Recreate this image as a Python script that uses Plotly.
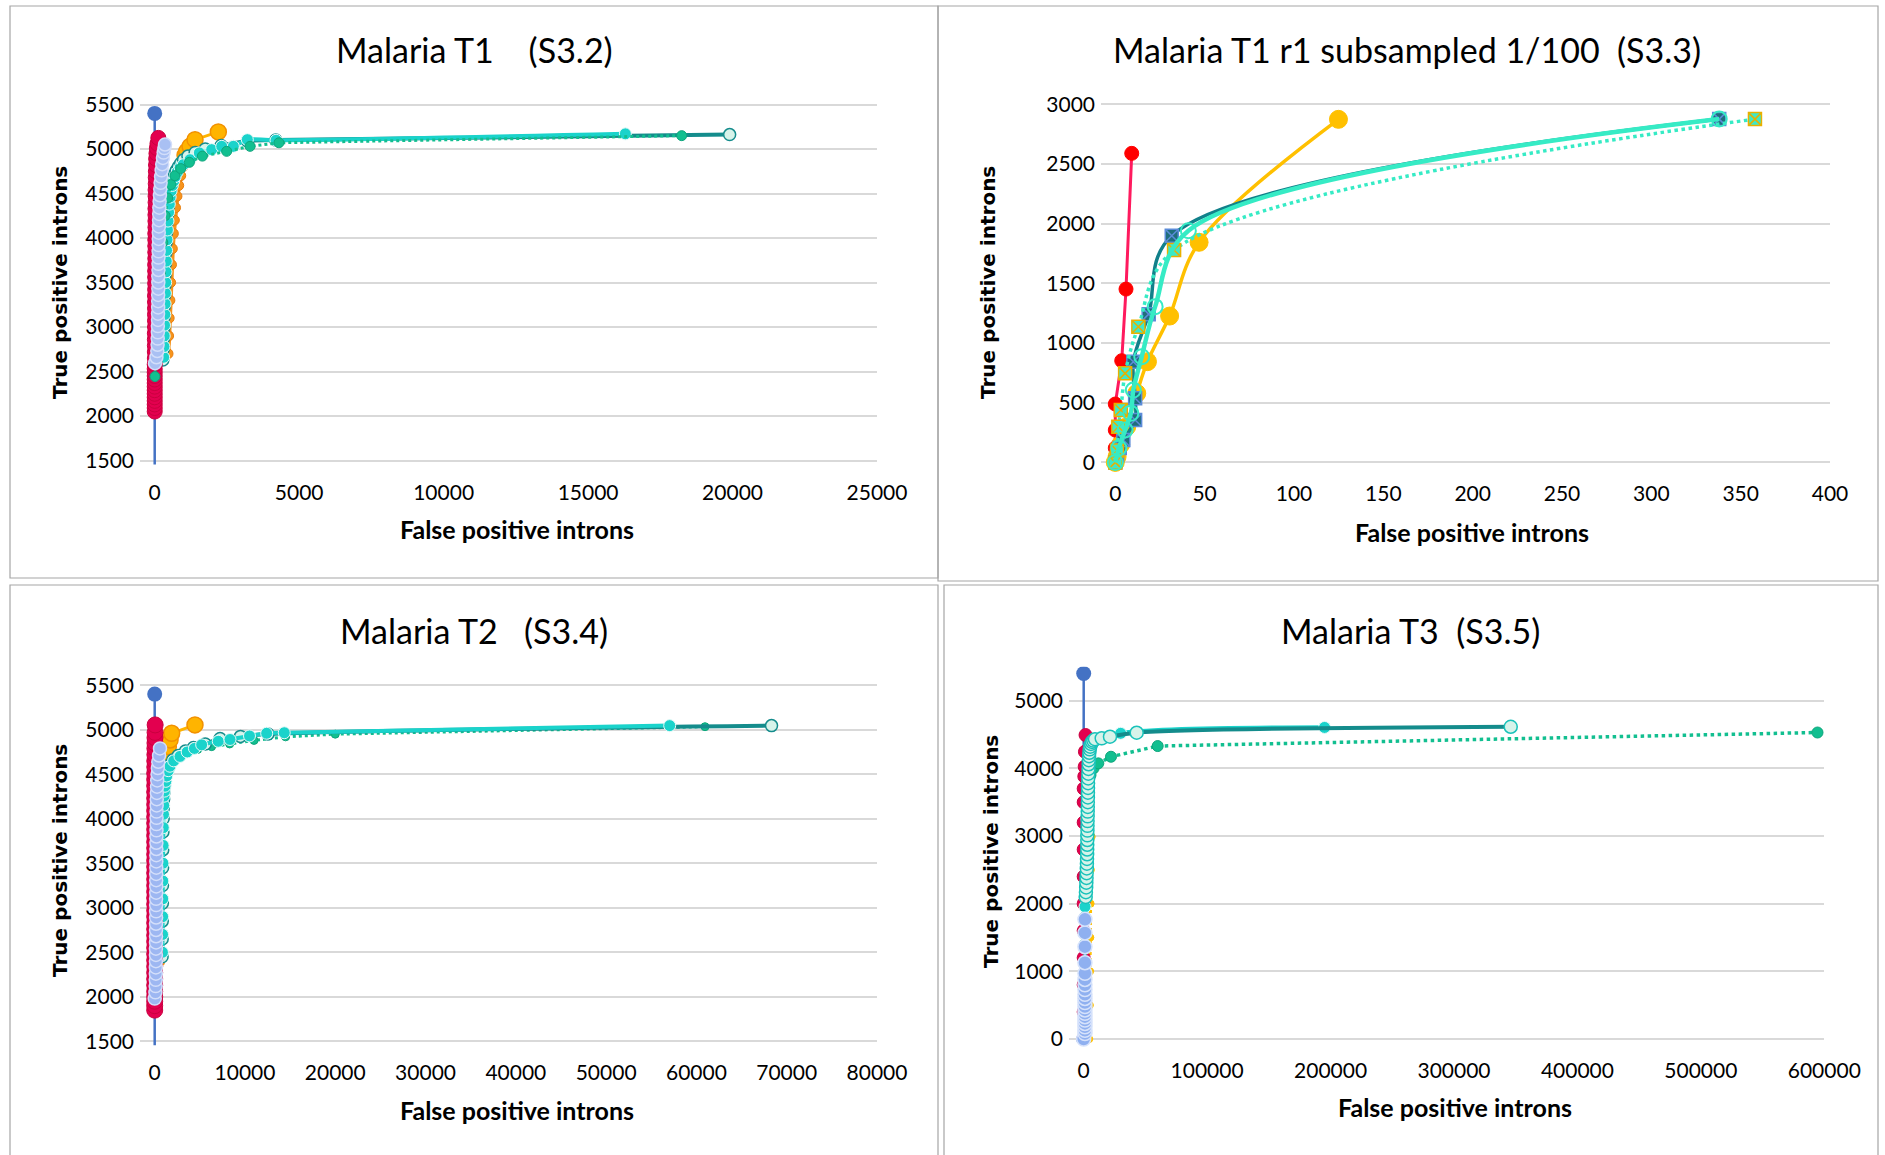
import plotly.graph_objects as go

W, H = 1885, 1155

# ---------------- Panel 1: Malaria T1 (S3.2) ----------------
p1_blue_x = [0, 0]
p1_blue_y = [0, 5400]
p1_red_x = [0, 0, 0, 0, 0, 0, 0, 0, 0, 0, 0, 0, 0, 0, 5, 5, 5, 5, 5, 10, 10, 10, 10, 10, 10, 15, 15, 15, 15, 15,
            20, 20, 20, 20, 20, 25, 25, 25, 25, 30, 30, 30, 35, 35, 40, 45, 50, 60, 75, 95, 125]
p1_red_y = [2050, 2090, 2130, 2170, 2210, 2250, 2290, 2330, 2370, 2410, 2450, 2490, 2530, 2580, 2650, 2720, 2790,
            2860, 2930, 3000, 3070, 3140, 3210, 3280, 3350, 3420, 3490, 3560, 3630, 3700, 3770, 3840, 3910, 3980,
            4050, 4120, 4190, 4260, 4330, 4400, 4470, 4540, 4610, 4680, 4750, 4820, 4890, 4950, 5010, 5060, 5125]
p1_lb_x = [10, 60, 90, 100, 105, 110, 110, 115, 115, 120, 120, 120, 125, 125, 125, 130, 130, 130, 135, 135, 140,
           140, 145, 150, 155, 160, 170, 180, 190, 205, 220, 240, 260, 285, 310, 335, 357]
p1_lb_y = [2594, 2660, 2730, 2800, 2870, 2940, 3010, 3080, 3150, 3220, 3290, 3360, 3430, 3500, 3570, 3640, 3710,
           3780, 3850, 3920, 3990, 4060, 4130, 4200, 4270, 4340, 4410, 4480, 4550, 4620, 4690, 4760, 4830, 4900,
           4960, 5010, 5050]
p1_or_x = [460, 480, 500, 525, 550, 580, 610, 645, 680, 720, 770, 830, 900, 970, 1040]
p1_or_y = [2700, 2900, 3100, 3300, 3500, 3700, 3880, 4050, 4200, 4340, 4470, 4590, 4700, 4800, 4880]
p1_gd_x = [1050, 1107, 1222, 1395, 2202]
p1_gd_y = [4930, 4974, 5030, 5105, 5192]
p1_gr_x = [10, 60, 130, 200, 280, 360, 450, 560, 700, 900, 1200, 1650, 2490, 3300, 4300, 18240]
p1_gr_y = [2443, 2800, 3200, 3600, 3950, 4250, 4450, 4600, 4700, 4780, 4850, 4920, 4974, 5030, 5070, 5150]
p1_pl_x = [280, 290, 300, 310, 320, 330, 340, 350, 360, 370, 380, 395, 410, 430, 450, 475, 500, 530, 560, 595,
           640, 690, 750, 820, 900, 1000, 1150, 1400, 1750, 2300, 3216, 4190, 19900]
p1_pl_y = [2630, 2750, 2870, 2990, 3110, 3230, 3350, 3470, 3590, 3710, 3830, 3950, 4060, 4170, 4270, 4360, 4440,
           4510, 4570, 4620, 4670, 4720, 4760, 4800, 4840, 4880, 4920, 4960, 5000, 5040, 5090, 5100, 5162]
p1_cy_x = [310, 320, 330, 340, 350, 360, 370, 380, 390, 400, 410, 425, 440, 460, 480, 505, 535, 570, 610, 655,
           710, 780, 880, 990, 1222, 1545, 1972, 2319, 2721, 3206, 4200, 16290]
p1_cy_y = [2660, 2780, 2900, 3020, 3140, 3260, 3380, 3500, 3620, 3740, 3860, 3980, 4090, 4190, 4290, 4380, 4460,
           4530, 4590, 4640, 4690, 4740, 4790, 4824, 4880, 4956, 4993, 5030, 5030, 5105, 5098, 5170]

# ---------------- Panel 2: Malaria T1 r1 subsampled 1/100 (S3.3) ----------------
p2_red_x = [0, 0, 0, 0, 3.6, 6, 9.2]
p2_red_y = [0, 120, 271, 489, 852, 1452, 2589]
p2_gd_x = [0, 1, 3, 6.4, 12, 18, 30.4, 46.9, 124.9]
p2_gd_y = [0, 48, 150, 299, 579, 844, 1226, 1844, 2874]
p2_dt_x = [0, 1, 2.5, 4.5, 11.1, 11.1, 10.1, 18.7, 31.6, 338]
p2_dt_y = [0, 60, 120, 188, 355, 537, 844, 1242, 1899, 2876]
p2_aq_x = [0, 2, 5.5, 8.7, 10.1, 14.8, 22.3, 40.9, 338]
p2_aq_y = [0, 120, 271, 411, 606, 886, 1305, 1941, 2876]
p2_ad_x = [0, 1, 1.7, 3.1, 5.5, 12.9, 32.9, 358]
p2_ad_y = [0, 100, 299, 439, 746, 1137, 1779, 2876]

# ---------------- Panel 3: Malaria T2 (S3.4) ----------------
p3_blue_x = [0, 0]
p3_blue_y = [0, 5400]
p3_red_x = [0, 0, 0, 0, 0, 0, 0, 0, 0, 0, 0, 0, 0, 0, 0, 0, 0, 0, 0, 0, 0, 0, 0, 0, 0, 0, 0, 0, 0, 0, 0, 0, 0, 0,
            0, 0, 0, 0, 0, 0, 10, 10, 20, 20, 30, 30, 40, 50]
p3_red_y = [1850, 1900, 1950, 2000, 2060, 2130, 2200, 2270, 2340, 2410, 2480, 2550, 2620, 2690, 2760, 2830, 2900,
            2970, 3040, 3110, 3180, 3250, 3320, 3390, 3460, 3530, 3600, 3670, 3740, 3810, 3880, 3950, 4020, 4090,
            4160, 4230, 4300, 4370, 4440, 4510, 4580, 4650, 4720, 4790, 4850, 4910, 4970, 5054]
p3_lb_x = [0, 80, 110, 120, 130, 130, 140, 140, 140, 150, 150, 150, 150, 160, 160, 160, 160, 170, 170, 170, 170,
           180, 180, 180, 190, 190, 190, 200, 200, 210, 210, 220, 230, 240, 260, 280, 310, 350, 400, 480, 587]
p3_lb_y = [1980, 2050, 2120, 2190, 2260, 2330, 2400, 2470, 2540, 2610, 2680, 2750, 2820, 2890, 2960, 3030, 3100,
           3170, 3240, 3310, 3380, 3450, 3520, 3590, 3660, 3730, 3800, 3870, 3940, 4010, 4080, 4150, 4220, 4290,
           4360, 4430, 4500, 4570, 4640, 4710, 4790]
p3_or_x = [800, 820, 840, 860, 880, 900, 930, 960, 1000, 1050, 1120, 1200, 1330]
p3_or_y = [2380, 2700, 3000, 3300, 3600, 3850, 4050, 4200, 4320, 4430, 4530, 4620, 4735]
p3_gd_x = [1330, 1510, 1700, 1880, 4460]
p3_gd_y = [4735, 4810, 4885, 4960, 5054]
p3_gr_x = [775, 790, 810, 840, 880, 940, 1050, 1300, 1800, 2700, 3600, 4770, 6300, 8300, 11000, 14500, 20000, 60950]
p3_gr_y = [2488, 2900, 3300, 3700, 4000, 4250, 4420, 4540, 4620, 4690, 4740, 4779, 4810, 4840, 4880, 4920, 4950, 5034]
p3_pl_x = [820, 830, 840, 850, 860, 875, 890, 910, 935, 960, 990, 1030, 1080, 1150, 1250, 1400, 1600, 2000, 2600,
           3400, 4300, 5600, 7240, 9500, 12550, 68320]
p3_pl_y = [2450, 2650, 2850, 3050, 3250, 3450, 3650, 3850, 4000, 4120, 4220, 4300, 4370, 4430, 4490, 4550, 4600,
           4660, 4710, 4760, 4800, 4840, 4902, 4925, 4952, 5046]
p3_cy_x = [860, 870, 880, 890, 900, 915, 930, 950, 975, 1000, 1030, 1080, 1140, 1230, 1330, 1500, 1690, 2100, 2800,
           3600, 4400, 5200, 7040, 8340, 10500, 12400, 14350, 57040]
p3_cy_y = [2500, 2700, 2900, 3100, 3300, 3500, 3700, 3900, 4050, 4150, 4253, 4310, 4365, 4420, 4480, 4540, 4590,
           4650, 4700, 4750, 4790, 4830, 4870, 4890, 4930, 4960, 4966, 5046]

# ---------------- Panel 4: Malaria T3 (S3.5) ----------------
p4_blue_x = [0, 0]
p4_blue_y = [0, 5400]
p4_red_x = [0, 0, 0, 0, 0, 0, 0, 0, 0, 0, 0, 500, 800, 1000, 1500]
p4_red_y = [0, 400, 800, 1200, 1600, 2000, 2400, 2800, 3200, 3500, 3700, 3880, 4024, 4245, 4492]
p4_gd_x = [4500, 5000, 5200, 5400, 5600, 5800, 6480]
p4_gd_y = [0, 500, 1000, 1500, 2000, 2500, 2989]
p4_gr_x = [1000, 1000, 1000, 1500, 2200, 3000, 4000, 5500, 8000, 11830, 22110, 59940, 594500]
p4_gr_y = [1000, 1400, 1800, 2400, 3000, 3400, 3700, 3900, 4000, 4073, 4171, 4329, 4529]
p4_lb_x = [0, 1000, 1000, 1000, 1000, 1000, 1000, 1000, 1000, 1000, 1000, 1000, 1000, 1000, 1000, 1000, 1000, 1000,
           1000, 1000, 1000]
p4_lb_y = [0, 80, 130, 180, 230, 280, 330, 380, 430, 480, 540, 600, 660, 730, 800, 880, 971, 1128, 1364, 1568, 1768]
p4_pl_x = [1600, 1800, 2000, 2150, 2300, 2400, 2500, 2600, 2700, 2800, 2850, 2900, 2950, 3000, 3050, 3100, 3150,
           3200, 3250, 3300, 3350, 3400, 3450, 3500, 3550, 3650, 3750, 3850, 4000, 4150, 4350, 4600, 4900, 5300,
           5900, 6700, 7800, 9150, 14580, 21300, 42930, 345970]
p4_pl_y = [2100, 2170, 2240, 2310, 2380, 2450, 2520, 2590, 2660, 2730, 2800, 2870, 2940, 3010, 3080, 3150, 3220,
           3290, 3360, 3430, 3500, 3570, 3640, 3710, 3780, 3850, 3920, 3990, 4060, 4120, 4180, 4230, 4280, 4320,
           4360, 4390, 4410, 4430, 4443, 4467, 4526, 4614]
p4_cy_x = [1050, 1500, 1900, 2300, 2700, 3000, 3300, 3600, 3900, 4300, 4800, 5600, 7000, 9150, 14580, 29970, 195140]
p4_cy_y = [1955, 2300, 2650, 2950, 3250, 3500, 3700, 3880, 4030, 4150, 4250, 4330, 4380, 4418, 4428, 4517, 4604]

titles = ["Malaria T1\u00a0\u00a0\u00a0\u00a0(S3.2)",
          "Malaria T1 r1 subsampled 1/100\u00a0\u00a0(S3.3)",
          "Malaria T2\u00a0\u00a0\u00a0(S3.4)",
          "Malaria T3\u00a0\u00a0(S3.5)"]
x_title = "False positive introns"
y_title = "True positive introns"
x_ticks = [[0, 5000, 10000, 15000, 20000, 25000],
           [0, 50, 100, 150, 200, 250, 300, 350, 400],
           [0, 10000, 20000, 30000, 40000, 50000, 60000, 70000, 80000],
           [0, 100000, 200000, 300000, 400000, 500000, 600000]]
y_ticks = [[1500, 2000, 2500, 3000, 3500, 4000, 4500, 5000, 5500],
           [0, 500, 1000, 1500, 2000, 2500, 3000],
           [1500, 2000, 2500, 3000, 3500, 4000, 4500, 5000, 5500],
           [0, 1000, 2000, 3000, 4000, 5000]]

fig = go.Figure()


def add(x, y, ax, lc, lw, mc, ms, ml="rgba(0,0,0,0)", mlw=1.0, symbol="circle",
        dash="solid", shape="linear", clip=False, mode="lines+markers"):
    xa = "x" if ax == 1 else "x%d" % ax
    ya = "y" if ax == 1 else "y%d" % ax
    fig.add_trace(go.Scatter(
        x=x, y=y, xaxis=xa, yaxis=ya, mode=mode,
        line=dict(color=lc, width=lw, dash=dash, shape=shape),
        marker=dict(color=mc, size=ms, symbol=symbol, line=dict(color=ml, width=mlw)),
        cliponaxis=clip, hoverinfo="skip", showlegend=False))


BLUE = "#4472C4"
CRIMSON = "#E3004F"
LB_FILL = "#A9C0F3"
LB_EDGE = "#D3DEFA"
ORANGE = "#F7941D"
GOLD = "#FFB400"
GOLD_EDGE = "#F29100"
GREEN = "#12BF90"
DTEAL = "#148C8C"
PALE = "#D7F3EA"
CYAN = "#1AD3CB"

# Panel 1
add(p1_blue_x, p1_blue_y, 1, BLUE, 2.5, BLUE, 15, clip=True)
add(p1_or_x, p1_or_y, 1, ORANGE, 5, ORANGE, 10, ml="#E87E0C")
add(p1_gd_x, p1_gd_y, 1, GOLD, 3, GOLD, 16, ml=GOLD_EDGE, mlw=1.5)
add(p1_pl_x, p1_pl_y, 1, DTEAL, 4, PALE, 12, ml=DTEAL, mlw=1.5, shape="spline")
add(p1_cy_x, p1_cy_y, 1, CYAN, 4, CYAN, 12, ml="#E6FAF8", mlw=1, shape="spline")
add(p1_red_x, p1_red_y, 1, CRIMSON, 3, CRIMSON, 15, ml="#C9003F")
add(p1_gr_x, p1_gr_y, 1, GREEN, 3, GREEN, 10, dash="dot", ml="#0EA57C")
add(p1_lb_x, p1_lb_y, 1, LB_FILL, 2, LB_FILL, 13, ml=LB_EDGE, mlw=1.5)

# Panel 2
add(p2_red_x, p2_red_y, 2, "#FF1A5E", 3, "#FF0000", 14, ml="#FF0000")
add(p2_gd_x, p2_gd_y, 2, "#FFC000", 3.5, "#FFC000", 18, ml="#FFC000", shape="spline")
add(p2_dt_x, p2_dt_y, 2, "#11808A", 3.5, "#1F6E7C", 13, ml="#5B8BD8", mlw=1.5,
    symbol="square-x", shape="spline")
add(p2_ad_x, p2_ad_y, 2, "#36EBC5", 3.5, "#3FE8C8", 13, ml="#E8B000", mlw=1.5,
    symbol="square-x", dash="dot", shape="spline")
add(p2_aq_x, p2_aq_y, 2, "#36EBC5", 4.5, "#36EBC5", 15, ml="#36EBC5", mlw=2,
    symbol="circle-open", shape="spline")

# Panel 3
add(p3_blue_x, p3_blue_y, 3, BLUE, 2.5, BLUE, 15, clip=True)
add(p3_or_x, p3_or_y, 3, ORANGE, 2.5, ORANGE, 5, ml=ORANGE)
add(p3_gd_x, p3_gd_y, 3, GOLD, 3, GOLD, 16, ml=GOLD_EDGE, mlw=1.5)
add(p3_gr_x, p3_gr_y, 3, GREEN, 3, GREEN, 8, dash="dot", ml="#0EA57C")
add(p3_pl_x, p3_pl_y, 3, DTEAL, 4, PALE, 12, ml=DTEAL, mlw=1.5, shape="spline")
add(p3_cy_x, p3_cy_y, 3, CYAN, 4, CYAN, 12, ml="#E6FAF8", mlw=1, shape="spline")
add(p3_red_x, p3_red_y, 3, CRIMSON, 3, CRIMSON, 16, ml="#C9003F")
add(p3_lb_x, p3_lb_y, 3, "#9DB7F2", 2, "#9DB7F2", 13, ml="#D3DEFA", mlw=1.5)

# Panel 4
add(p4_blue_x, p4_blue_y, 4, BLUE, 2.5, BLUE, 15, clip=True)
add(p4_gd_x, p4_gd_y, 4, "#FFC000", 3, "#FFC000", 7, dash="dot", ml="#FFC000")
add(p4_red_x, p4_red_y, 4, "#D0003F", 3, CRIMSON, 13, ml="#C9003F")
add(p4_gr_x, p4_gr_y, 4, GREEN, 3.5, GREEN, 11, dash="dot", ml="#0EA57C")
add(p4_cy_x, p4_cy_y, 4, CYAN, 4.5, CYAN, 12, ml="#E6FAF8", mlw=1, shape="spline")
add(p4_pl_x, p4_pl_y, 4, DTEAL, 4, PALE, 13, ml="#19C2BA", mlw=1.5, shape="spline")
add(p4_lb_x, p4_lb_y, 4, "#7FA6EE", 2, "#8FB0F0", 14, ml="#D6E2FB", mlw=1.5)

# ---------------- layout ----------------
def px(v):
    return v / W


def py(v):
    return 1 - v / H


TICKFONT = dict(family="Lato", size=21, color="#000000")
# (x domain px, x range, y domain px(bottom, top), y range)
panels = [
    ((140, 877), [-509, 25000], (464.5, 100.5), [1455, 5545]),
    ((1101, 1830), [-8, 400], (466.4, 100.3), [-33.5, 3033.5]),
    ((140, 877), [-1628, 80000], (1045.3, 681.2), [1455, 5545]),
    ((1069, 1824.3), [-11910, 600000], (1043, 666.8), [-59, 5500]),
]
layout_axes = {}
for i, (xd, xr, yd, yr) in enumerate(panels):
    n = "" if i == 0 else str(i + 1)
    layout_axes["xaxis" + n] = dict(
        domain=[px(xd[0]), px(xd[1])], range=xr, anchor="y" + n,
        tickvals=x_ticks[i], ticktext=[str(v) for v in x_ticks[i]],
        showgrid=False, zeroline=False, showline=False, ticks="",
        tickfont=TICKFONT, ticklabelstandoff=13, automargin=False, fixedrange=True)
    layout_axes["yaxis" + n] = dict(
        domain=[py(yd[0]), py(yd[1])], range=yr, anchor="x" + n,
        tickvals=y_ticks[i], ticktext=[str(v) for v in y_ticks[i]],
        showgrid=True, gridcolor="#D9D9D9", gridwidth=1.6, zeroline=False,
        showline=False, ticks="", tickfont=TICKFONT, ticklabelstandoff=5,
        automargin=False, fixedrange=True)

title_pos = [(474, 50), (1407, 49), (474, 630), (1410, 630)]
xt_pos = [(517, 529), (1472, 532), (517, 1110), (1455, 1107)]
yt_pos = [(60, 283), (988, 283), (60, 861), (991, 851)]
annotations = []
for i in range(4):
    annotations.append(dict(text=titles[i], x=px(title_pos[i][0]), y=py(title_pos[i][1]),
                            xref="paper", yref="paper", xanchor="center", yanchor="middle",
                            showarrow=False, font=dict(family="Lato", size=34, color="#000000")))
    annotations.append(dict(text="<b>" + x_title + "</b>", x=px(xt_pos[i][0]), y=py(xt_pos[i][1]),
                            xref="paper", yref="paper", xanchor="center", yanchor="middle",
                            showarrow=False, font=dict(family="Lato", size=25, color="#000000")))
    annotations.append(dict(text="<b>" + y_title + "</b>", x=px(yt_pos[i][0]), y=py(yt_pos[i][1]),
                            xref="paper", yref="paper", xanchor="center", yanchor="middle",
                            textangle=-90, showarrow=False,
                            font=dict(family="DejaVu Sans", size=20, color="#000000")))

borders = [(10, 6, 938, 578), (938, 6, 1878, 581), (10, 585, 938, 1160), (944, 585, 1878, 1160)]
shapes = []
for (x0, y0, x1, y1) in borders:
    shapes.append(dict(type="rect", xref="paper", yref="paper",
                       x0=px(x0), x1=px(x1), y0=py(y0), y1=py(y1),
                       line=dict(color="#A6A6A6", width=1.2), fillcolor="rgba(0,0,0,0)",
                       layer="below"))

fig.update_layout(width=W, height=H, margin=dict(l=0, r=0, t=0, b=0, autoexpand=False),
                  paper_bgcolor="white", plot_bgcolor="rgba(0,0,0,0)",
                  showlegend=False, annotations=annotations, shapes=shapes,
                  **layout_axes)

fig.write_html("out.html", config={"displayModeBar": False})
